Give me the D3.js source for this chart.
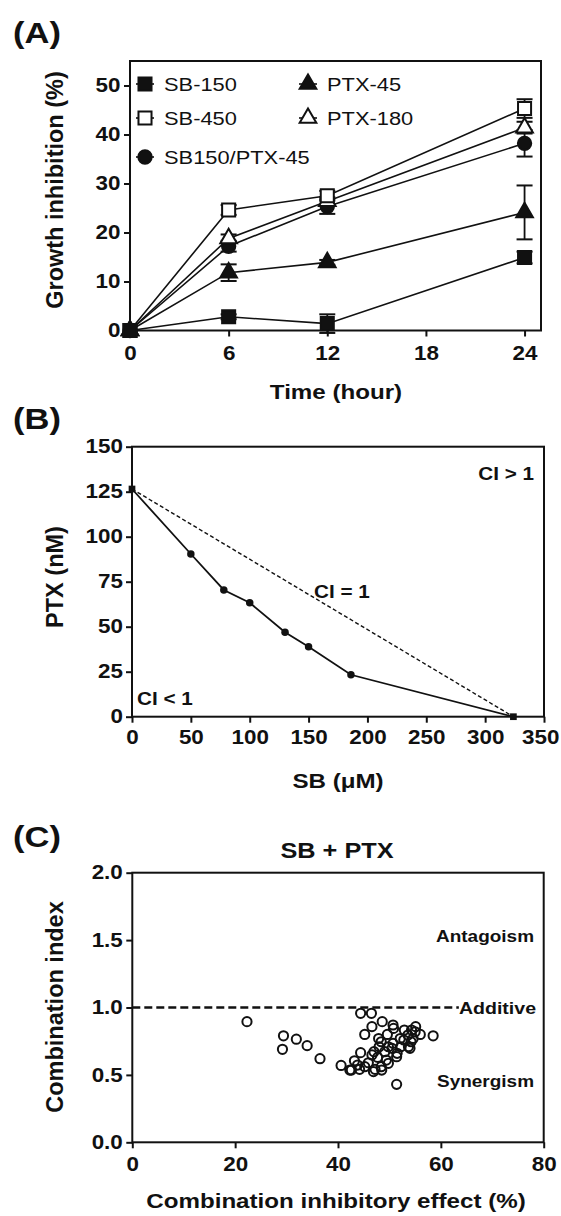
<!DOCTYPE html>
<html>
<head>
<meta charset="utf-8">
<script src="https://cdn.jsdelivr.net/npm/d3@7"></script>
<style>
  body { margin: 0; background: #fff; }
  svg { display: block; font-family: "Liberation Sans", Arial, sans-serif; }
</style>
</head>
<body>
<script>
var width = 561,
    height = 1216,
    SX = 1.15; // the figure is a little wider than tall, so text gets stretched

// ---- panel A data ----
var hours = [0, 6, 12, 24];
var hourTicks = [0, 6, 12, 18, 24];
var growthTicks = [0, 10, 20, 30, 40, 50];
var seriesNames = ['SB-150', 'SB-450', 'PTX-45', 'PTX-180', 'SB150/PTX-45'];
var sb150 = [0, 2.8, 1.4, 14.9],      sb150Err = [0, 0.5, 1.9, 1.2];
var sb450 = [0, 24.6, 27.5, 45.3],    sb450Err = [0, 1.0, 1.0, 1.9];
var ptx45 = [0, 11.8, 13.9, 24.1],    ptx45Err = [0, 1.7, 0.5, 5.5];
var ptx180 = [0, 18.8, 26.4, 41.4],   ptx180Err = [0, 0.8, 0.8, 1.2];
var combo = [0, 17.2, 25.3, 38.2],    comboErr = [0, 1.1, 1.5, 2.7];

// ---- panel B data (isobologram) ----
var sbDose = [0, 50, 78, 100, 130, 150, 186, 324];
var ptxDose = [126.5, 90.4, 70.4, 63.3, 46.9, 38.9, 23.3, 0];
var sbTicks = [0, 50, 100, 150, 200, 250, 300, 350];
var ptxTicks = [0, 25, 50, 75, 100, 125, 150];

// ---- panel C data (combination index) ----
var effect = [22.3, 29.4, 29.2, 31.9, 34.0, 36.5, 40.6, 42.6, 44.4, 46.5, 45.2, 46.6, 48.6, 50.7,
  49.6, 50.8, 55.1, 56.0, 58.5, 54.3, 51.4, 44.4, 43.2, 43.8, 44.2, 45.2, 45.9, 47.2, 48.4, 47.7,
  47.0, 48.0, 48.4, 49.4, 49.1, 50.5, 50.7, 51.5, 52.2, 52.1, 52.8, 53.6, 54.2, 54.0, 54.6, 46.6,
  49.8, 47.9, 52.9, 42.3, 46.9, 48.5, 49.8, 51.4, 53.7, 55.0];
var ci = [0.895, 0.79, 0.69, 0.765, 0.717, 0.62, 0.57, 0.536, 0.957, 0.957, 0.80, 0.858, 0.895, 0.87,
  0.80, 0.845, 0.858, 0.80, 0.79, 0.833, 0.43, 0.665, 0.605, 0.573, 0.541, 0.561, 0.59, 0.541, 0.561, 0.63,
  0.672, 0.709, 0.746, 0.61, 0.672, 0.697, 0.734, 0.66, 0.709, 0.77, 0.759, 0.796, 0.746, 0.697, 0.77, 0.648,
  0.709, 0.77, 0.833, 0.536, 0.524, 0.536, 0.586, 0.635, 0.709, 0.82];
var effectTicks = [0, 20, 40, 60, 80];
var ciTicks = [0, 0.5, 1, 1.5, 2];

var ink = '#111';

var svg = d3.select('body').append('svg')
    .attr('width', width)
    .attr('height', height);

// stretched text helper
function label(x, y, txt, size, anchor, weight, rot) {
  var t = 'translate(' + x + ',' + y + ')';
  t += rot ? ' rotate(-90)' : ' scale(' + SX + ',1)';
  return svg.append('text')
    .attr('transform', t)
    .attr('text-anchor', anchor || 'start')
    .attr('font-size', size)
    .attr('font-weight', weight || 'bold')
    .attr('fill', ink)
    .text(txt);
}

function frame(x, y) {
  svg.append('rect')
    .attr('x', x.range()[0]).attr('y', y.range()[1])
    .attr('width', x.range()[1] - x.range()[0])
    .attr('height', y.range()[0] - y.range()[1])
    .attr('fill', 'none').attr('stroke', ink).attr('stroke-width', 2);
}

function drawAxes(x, y, xt, yt, yfmt, xGap, yGap) {
  var gx = svg.append('g')
    .attr('transform', 'translate(0,' + y.range()[0] + ')')
    .call(d3.axisBottom(x).tickValues(xt).tickSize(6).tickFormat(d3.format('d')));
  var gy = svg.append('g')
    .attr('transform', 'translate(' + x.range()[0] + ',0)')
    .call(d3.axisLeft(y).tickValues(yt).tickSize(6).tickFormat(yfmt));
  [gx, gy].forEach(function(g) {
    g.select('.domain').remove();
    g.selectAll('line').attr('stroke', ink).attr('stroke-width', 2);
    g.selectAll('text')
      .attr('font-size', 19.5).attr('font-weight', 'bold').attr('fill', ink)
      .attr('font-family', '"Liberation Sans", Arial, sans-serif')
      .attr('transform', 'scale(' + SX + ',1)');
  });
  gx.selectAll('text').attr('y', xGap).attr('dy', '0.71em');
  // keep the last x label inside the page
  gx.selectAll('.tick text').each(function(d) {
    var half = this.getComputedTextLength() * SX / 2;
    var over = x(d) + half - (width - 2);
    if (over > 0) d3.select(this).attr('x', -over / SX);
  });
  gy.selectAll('text').attr('x', -yGap / SX);
  frame(x, y);
}

// ================= Panel A =================
var xA = d3.scaleLinear().domain([0, 25]).range([130, 541]);
var yA = d3.scaleLinear().domain([0, 55]).range([330.5, 61]);

label(13, 43, '(A)', 30);
drawAxes(xA, yA, hourTicks, growthTicks, d3.format('d'), 15.5, 9.5);

var symSq = d3.symbol().type(d3.symbolSquare).size(170);
var symTri = d3.symbol().type(d3.symbolTriangle).size(120);
var symCir = d3.symbol().type(d3.symbolCircle).size(140);

var seriesA = [
  { name: seriesNames[4], v: combo, e: comboErr, sym: symCir, fill: ink },
  { name: seriesNames[3], v: ptx180, e: ptx180Err, sym: symTri, fill: '#fff' },
  { name: seriesNames[2], v: ptx45, e: ptx45Err, sym: symTri, fill: ink },
  { name: seriesNames[1], v: sb450, e: sb450Err, sym: symSq, fill: '#fff' },
  { name: seriesNames[0], v: sb150, e: sb150Err, sym: symSq, fill: ink }
];

var lineA = d3.line()
  .x(function(d, i) { return xA(hours[i]); })
  .y(function(d) { return yA(d); });

seriesA.forEach(function(s) {
  svg.append('path').attr('d', lineA(s.v))
    .attr('fill', 'none').attr('stroke', ink).attr('stroke-width', 1.6);
});

seriesA.forEach(function(s) {
  var g = svg.append('g');
  s.v.forEach(function(v, i) {
    if (!s.e[i]) return;
    var cx = xA(hours[i]), lo = yA(v - s.e[i]), hi = yA(v + s.e[i]);
    g.append('line').attr('x1', cx).attr('x2', cx).attr('y1', lo).attr('y2', hi)
      .attr('stroke', ink).attr('stroke-width', 1.8);
    [lo, hi].forEach(function(yy) {
      g.append('line').attr('x1', cx - 8).attr('x2', cx + 8).attr('y1', yy).attr('y2', yy)
        .attr('stroke', ink).attr('stroke-width', 2);
    });
  });
  g.selectAll('path').data(s.v).enter().append('path')
    .attr('d', s.sym)
    .attr('transform', function(d, i) { return 'translate(' + xA(hours[i]) + ',' + yA(d) + ')'; })
    .attr('fill', s.fill).attr('stroke', ink).attr('stroke-width', 2);
});

// legend
var legendA = [
  { name: seriesNames[0], sym: symSq, fill: ink, x: 145, y: 84 },
  { name: seriesNames[1], sym: symSq, fill: '#fff', x: 145, y: 118 },
  { name: seriesNames[4], sym: symCir, fill: ink, x: 145, y: 157 },
  { name: seriesNames[2], sym: symTri, fill: ink, x: 308, y: 84 },
  { name: seriesNames[3], sym: symTri, fill: '#fff', x: 308, y: 118 }
];
legendA.forEach(function(d) {
  svg.append('line').attr('x1', d.x - 9).attr('x2', d.x + 9).attr('y1', d.y).attr('y2', d.y)
    .attr('stroke', ink).attr('stroke-width', 1.6);
  svg.append('path').attr('d', d.sym).attr('transform', 'translate(' + d.x + ',' + d.y + ')')
    .attr('fill', d.fill).attr('stroke', ink).attr('stroke-width', 2);
  label(d.x + 19, d.y + 7, d.name, 19, 'start', 'normal');
});

label(63, 190, 'Growth inhibition  (%)', 23.5, 'middle', 'bold', true);
label(336, 399, 'Time (hour)', 21, 'middle');

// ================= Panel B =================
var xB = d3.scaleLinear().domain([0, 350]).range([132, 544]);
var yB = d3.scaleLinear().domain([0, 150]).range([716.7, 446.7]);

label(13, 429, '(B)', 30);
drawAxes(xB, yB, sbTicks, ptxTicks, d3.format('d'), 13.5, 9);

var last = sbDose.length - 1;
svg.append('line')
  .attr('x1', xB(sbDose[0])).attr('y1', yB(ptxDose[0]))
  .attr('x2', xB(sbDose[last])).attr('y2', yB(ptxDose[last]))
  .attr('stroke', ink).attr('stroke-width', 1.4).attr('stroke-dasharray', '4,2.5');

var lineB = d3.line()
  .x(function(d, i) { return xB(sbDose[i]); })
  .y(function(d) { return yB(d); });
svg.append('path').attr('d', lineB(ptxDose))
  .attr('fill', 'none').attr('stroke', ink).attr('stroke-width', 1.8);

svg.selectAll('.dotB').data(ptxDose).enter().append('path')
  .attr('class', 'dotB')
  .attr('d', function(d, i) {
    return d3.symbol().type(i === 0 || i === last ? d3.symbolSquare : d3.symbolCircle)
      .size(i === 0 || i === last ? 45 : 44)();
  })
  .attr('transform', function(d, i) { return 'translate(' + xB(sbDose[i]) + ',' + yB(d) + ')'; })
  .attr('fill', ink);

label(534, 480, 'CI > 1', 18, 'end');
label(314, 598, 'CI = 1', 18, 'start');
label(137, 705, 'CI < 1', 18, 'start');
label(63, 577, 'PTX (nM)', 23.5, 'middle', 'bold', true);
label(338, 788, 'SB (\u03bcM)', 21, 'middle');

// ================= Panel C =================
var xC = d3.scaleLinear().domain([0, 80]).range([132.3, 543.7]);
var yC = d3.scaleLinear().domain([0, 2]).range([1142.3, 872.7]);

label(13, 847, '(C)', 30);
label(337, 858, 'SB + PTX', 22, 'middle');
drawAxes(xC, yC, effectTicks, ciTicks, d3.format('.1f'), 14.5, 9.5);

svg.append('line')
  .attr('x1', xC(0)).attr('x2', xC(63.5))
  .attr('y1', yC(1)).attr('y2', yC(1))
  .attr('stroke', ink).attr('stroke-width', 2.4).attr('stroke-dasharray', '8,4');

svg.selectAll('.dotC').data(ci).enter().append('circle')
  .attr('class', 'dotC')
  .attr('cx', function(d, i) { return xC(effect[i]); })
  .attr('cy', function(d) { return yC(d); })
  .attr('r', 4.6)
  .attr('fill', 'none').attr('stroke', ink).attr('stroke-width', 2);

label(534, 942, 'Antagoism', 16.5, 'end');
label(536, 1014, 'Additive', 17, 'end');
label(534, 1087, 'Synergism', 16.5, 'end');
label(63, 1007, 'Combination index', 23.5, 'middle', 'bold', true);
label(336, 1208, 'Combination inhibitory effect (%)', 21, 'middle');
</script>
</body>
</html>
